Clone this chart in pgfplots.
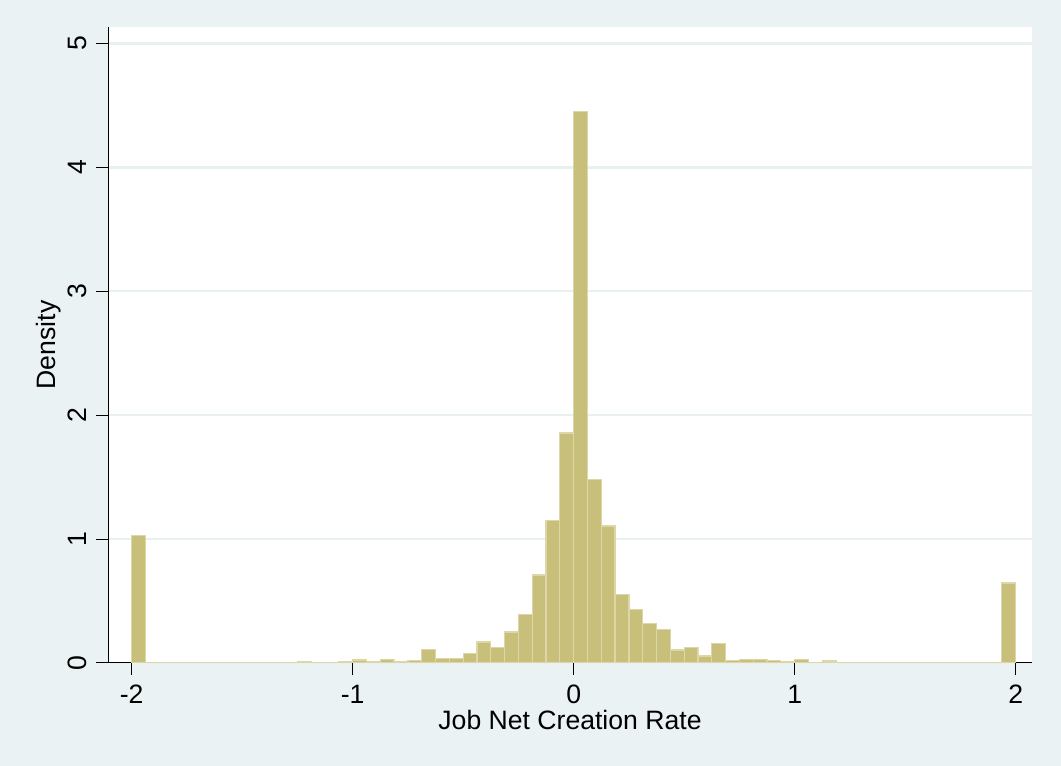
\documentclass[border=0pt]{standalone}
\usepackage{fontspec}
\setmainfont{Liberation Sans}
\usepackage{pgfplots}
\pgfplotsset{compat=1.18}
\definecolor{bgc}{RGB}{234,242,243}
\definecolor{gridc}{RGB}{232,240,242}
\definecolor{barfill}{RGB}{200,192,122}
\definecolor{barline}{RGB}{221,215,168}
\pgfplotsset{
  layers/mylayers/.define layer set={axis background,axis grid,main,axis ticks,axis lines,axis tick labels,axis descriptions,axis foreground}{},
}
\begin{document}
\pagecolor{bgc}%
\begin{tikzpicture}
\path (0,0) rectangle (530.5pt,383pt);
\begin{axis}[
  set layers=mylayers,
  at={(54pt,51.5pt)}, anchor=south west,
  scale only axis, width=462pt, height=318pt,
  xmin=-2.107, xmax=2.074, ymin=0, ymax=5.133,
  axis x line*=bottom, axis y line*=left,
  axis background/.style={fill=white},
  xtick={-2,-1,0,1,2}, xticklabels={-2,-1,0,1,2},
  ytick={0,1,2,3,4,5}, yticklabels={0,1,2,3,4,5},
  tick align=outside, major tick length=6pt,
  tick style={black, line width=0.5pt},
  axis line style={black, line width=0.5pt},
  ymajorgrids, grid style={gridc, line width=1.2pt},
  every tick label/.append style={font=\fontsize{13.3}{16}\selectfont, inner sep=0pt},
  xticklabel style={anchor=base},
  xticklabel shift=14.5pt,
  yticklabel style={rotate=90, anchor=base},
  yticklabel shift=4.5pt,
  label style={font=\fontsize{13.3}{16}\selectfont},
  xlabel={Job Net Creation Rate},
  xlabel style={at={(axis description cs:0.5,-0.1053)}, anchor=base, inner sep=0pt},
  ylabel={Density},
  ylabel style={at={(axis description cs:-0.0563,0.5)}, anchor=base, inner sep=0pt},
]
\addplot[ybar interval, fill=barfill, draw=barline, line width=0.6pt] coordinates {
(-2.0000,1.03) (-1.9375,0.005) (-1.8750,0.005) (-1.8125,0.004) (-1.7500,0.004)
(-1.6875,0.005) (-1.6250,0.005) (-1.5625,0.005) (-1.5000,0.005) (-1.4375,0.005)
(-1.3750,0.006) (-1.3125,0.006) (-1.2500,0.015) (-1.1875,0.006) (-1.1250,0.006)
(-1.0625,0.008) (-1.0000,0.024) (-0.9375,0.008) (-0.8750,0.030) (-0.8125,0.013)
(-0.7500,0.020) (-0.6875,0.110) (-0.6250,0.035) (-0.5625,0.035) (-0.5000,0.078)
(-0.4375,0.170) (-0.3750,0.126) (-0.3125,0.250) (-0.2500,0.390) (-0.1875,0.710)
(-0.1250,1.150) (-0.0625,1.856) (0.0000,4.450) (0.0625,1.480) (0.1250,1.105)
(0.1875,0.553) (0.2500,0.430) (0.3125,0.316) (0.3750,0.270) (0.4375,0.105)
(0.5000,0.124) (0.5625,0.057) (0.6250,0.157) (0.6875,0.022) (0.7500,0.028)
(0.8125,0.028) (0.8750,0.021) (0.9375,0.008) (1.0000,0.026) (1.0625,0.007)
(1.1250,0.016) (1.1875,0.006) (1.2500,0.005) (1.3125,0.005) (1.3750,0.005)
(1.4375,0.004) (1.5000,0.004) (1.5625,0.004) (1.6250,0.004) (1.6875,0.004)
(1.7500,0.004) (1.8125,0.004) (1.8750,0.005) (1.9375,0.646) (2.0000,0.646)
};
\end{axis}
\end{tikzpicture}
\end{document}
